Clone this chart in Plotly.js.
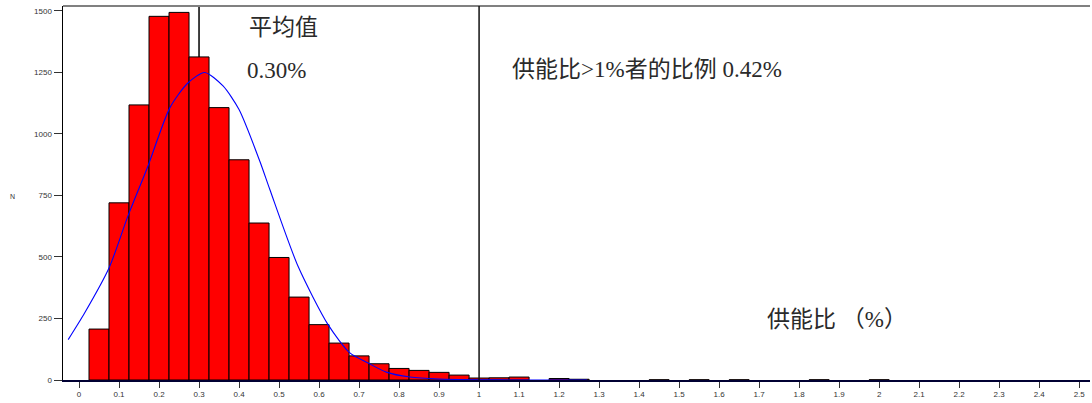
<!DOCTYPE html>
<html>
<head>
<meta charset="utf-8">
<script src="https://cdn.plot.ly/plotly-3.0.1.min.js"></script>
<style>html,body{margin:0;padding:0;background:#fff;}#chart{width:1092px;height:403px;}</style>
</head>
<body>
<div id="chart"></div>
<script>
// Histogram bins (centre of each 0.05-wide bin, % energy) and counts N
const binCenters = [0.05,0.10,0.15,0.20,0.25,0.30,0.35,0.40,0.45,0.50,0.55,0.60,0.65,0.70,0.75,0.80,0.85,0.90,0.95,1.00,1.05,1.10,1.20,1.25,1.45,1.55,1.65,1.85,2.00];
const binCounts  = [207,720,1118,1478,1494,1313,1107,895,638,498,337,225,150,98,66,47,39,31,20,8,9,12,6,3,1,1,1,1,1];

// Fitted normal curve
const curveX = [-0.027,0.014,0.075,0.122,0.172,0.227,0.272,0.314,0.36,0.40,0.452,0.477,0.5475,0.6225,0.677,0.7225,0.768,0.827,0.90,1.0,1.1,1.27];
const curveY = [164,272,455,665,868,1106,1207,1250,1195,1099,889,774,462,225,110,69,32,12,4,1,0,0];

const xTickVals = [0,0.1,0.2,0.3,0.4,0.5,0.6,0.7,0.8,0.9,1,1.1,1.2,1.3,1.4,1.5,1.6,1.7,1.8,1.9,2,2.1,2.2,2.3,2.4,2.5];
const xTickText = ["0","0.1","0.2","0.3","0.4","0.5","0.6","0.7","0.8","0.9","1","1.1","1.2","1.3","1.4","1.5","1.6","1.7","1.8","1.9","2","2.1","2.2","2.3","2.4","2.5"];
const yTickVals = [0,250,500,750,1000,1250,1500];

const meanValue = 0.30;
const cutValue = 1.0;
const labelMean = "平均值";
const labelMeanValue = "0.30%";
const labelShare = "供能比>1%者的比例 0.42%";
const labelAxis = "供能比 （%）";
const labelN = "N";

const textFont = {family: "Liberation Serif, 'Noto Sans CJK SC', serif", size: 23, color: "#2a2a2a"};

const traces = [
  {type: "bar", x: binCenters, y: binCounts, width: 0.05,
   marker: {color: "#ff0000", line: {color: "#000", width: 1}},
   hoverinfo: "x+y"},
  {type: "scatter", mode: "lines", x: curveX, y: curveY,
   line: {color: "#0000ff", width: 1.1, shape: "spline", smoothing: 0.7},
   hoverinfo: "skip"}
];

const layout = {
  width: 1092, height: 403,
  margin: {l: 63, r: 2, t: 6, b: 23},
  paper_bgcolor: "#fff", plot_bgcolor: "#fff",
  showlegend: false,
  bargap: 0,
  xaxis: {range: [-0.04, 2.527], tickvals: xTickVals, ticktext: xTickText,
          showgrid: false, zeroline: false, showline: true, linecolor: "#000033", linewidth: 1.5,
          ticks: "outside", ticklen: 6, tickcolor: "#333", tickwidth: 1,
          tickfont: {family: "Liberation Sans, Arial, sans-serif", size: 8, color: "#333"}},
  yaxis: {range: [0, 1520], tickvals: yTickVals,
          showgrid: false, zeroline: false, showline: true, linecolor: "#000", linewidth: 1.5,
          ticks: "outside", ticklen: 8, tickcolor: "#333", tickwidth: 1,
          tickfont: {family: "Liberation Sans, Arial, sans-serif", size: 8, color: "#333"}},
  shapes: [
    {type: "line", xref: "paper", yref: "paper", x0: 0, x1: 1, y0: 1, y1: 1,
     line: {color: "#808080", width: 2}},
    {type: "line", xref: "x", yref: "paper", x0: meanValue, x1: meanValue, y0: 0, y1: 1,
     layer: "below", line: {color: "#000", width: 1.5}},
    {type: "line", xref: "x", yref: "paper", x0: cutValue, x1: cutValue, y0: 0, y1: 1,
     line: {color: "#111", width: 1.5}}
  ],
  annotations: [
    {text: labelMean, xref: "x", yref: "paper", x: 0.42, y: 0.942, xanchor: "left", yanchor: "middle",
     showarrow: false, font: textFont},
    {text: labelMeanValue, xref: "x", yref: "paper", x: 0.415, y: 0.828, xanchor: "left", yanchor: "middle",
     showarrow: false, font: textFont},
    {text: labelShare, xref: "x", yref: "paper", x: 1.077, y: 0.83, xanchor: "left", yanchor: "middle",
     showarrow: false, font: textFont},
    {text: labelAxis, xref: "x", yref: "paper", x: 1.715, y: 0.163, xanchor: "left", yanchor: "middle",
     showarrow: false, font: textFont},
    {text: labelN, xref: "paper", yref: "paper", x: -0.049, y: 0.49, xanchor: "center", yanchor: "middle",
     showarrow: false, font: {family: "Liberation Sans, Arial, sans-serif", size: 7, color: "#333"}}
  ]
};

Plotly.newPlot("chart", traces, layout, {displayModeBar: false, staticPlot: true});
</script>
</body>
</html>
